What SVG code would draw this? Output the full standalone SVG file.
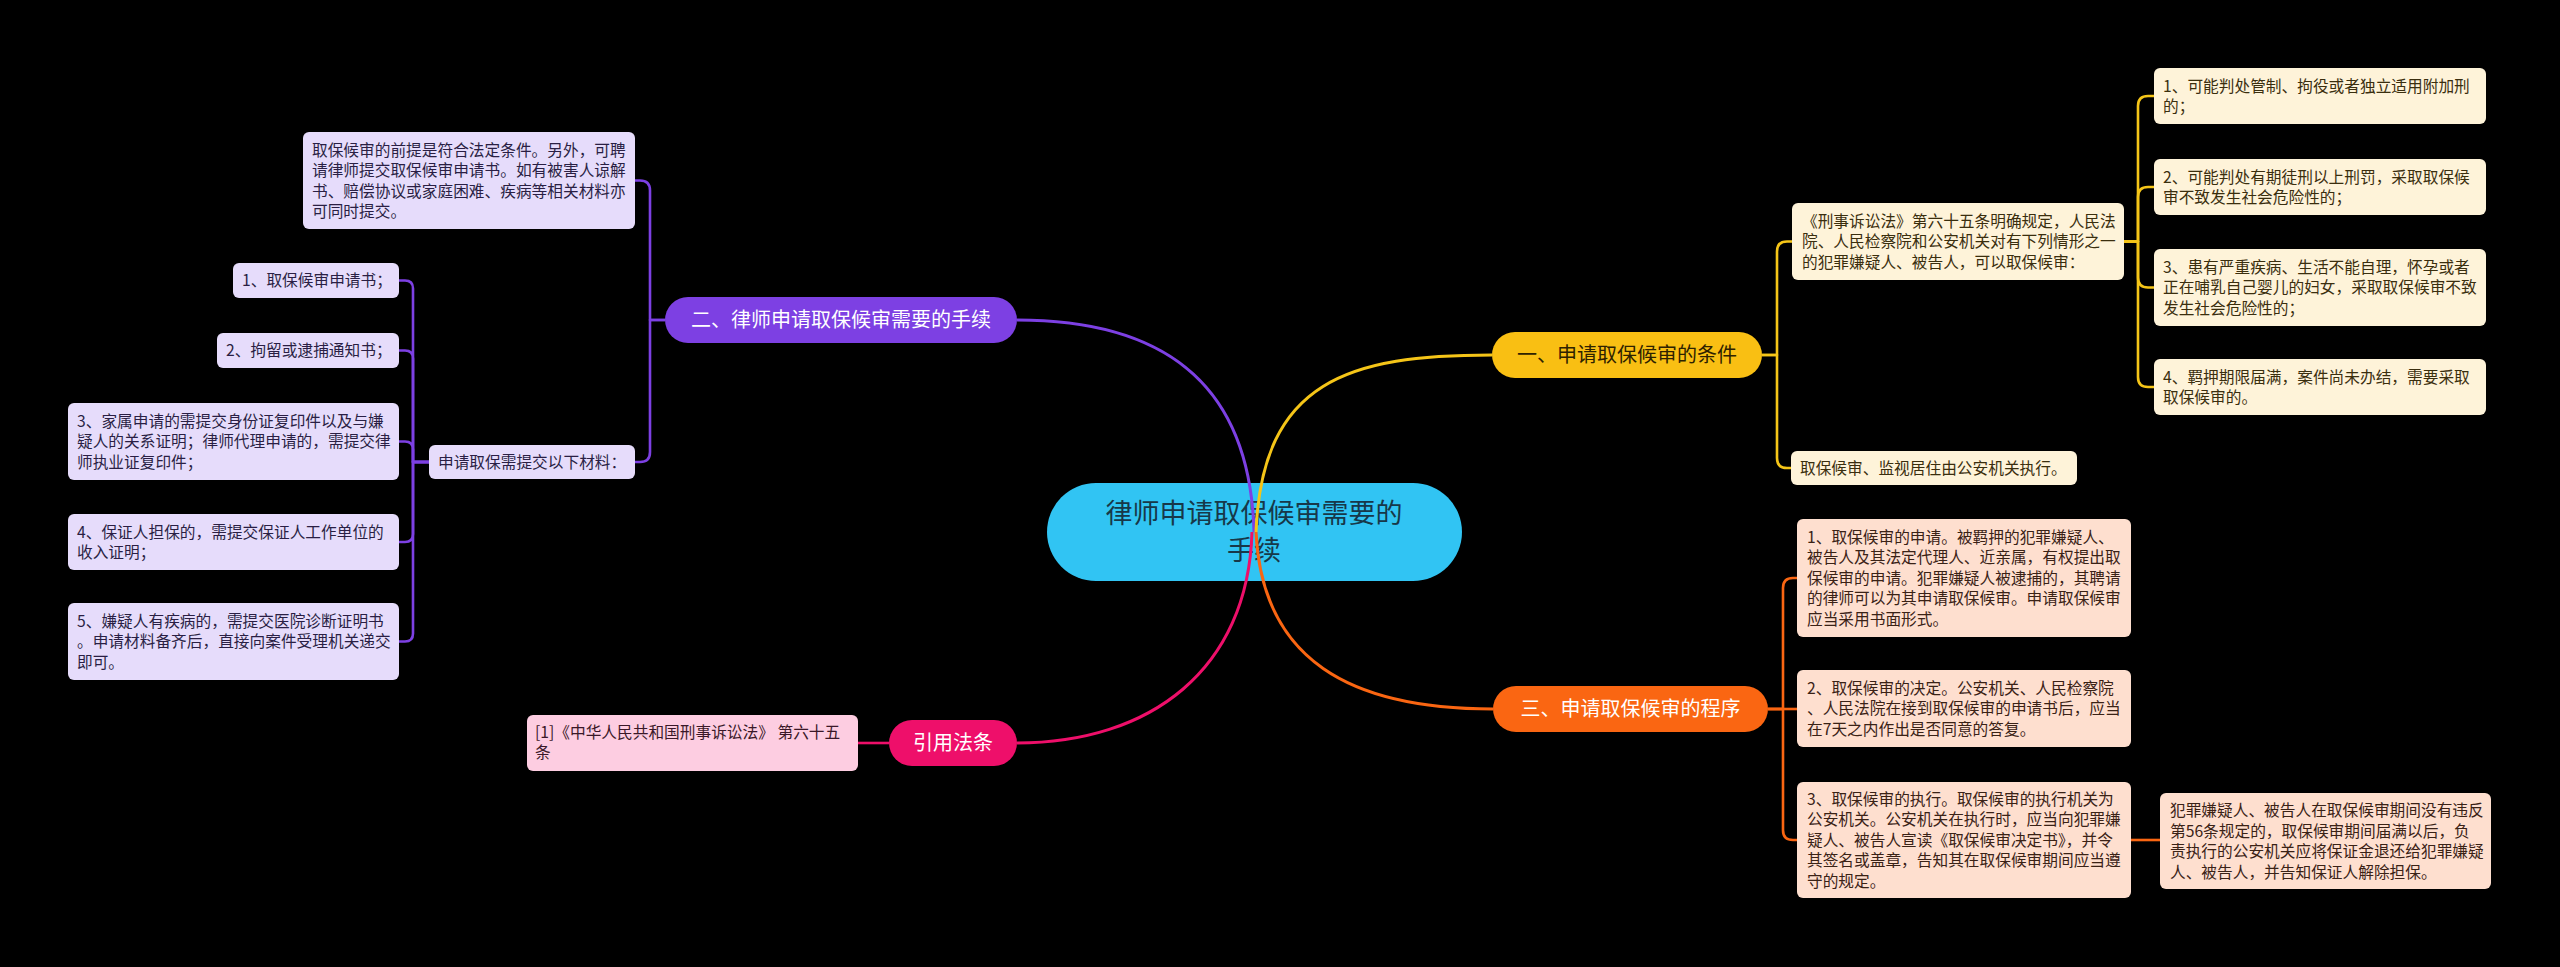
<svg xmlns="http://www.w3.org/2000/svg" width="2560" height="967" viewBox="0 0 2560 967">
<style>
text{font-family:"Noto Sans CJK SC","Noto Sans",sans-serif;}
.t{font-size:15.7px;fill:#2b2b2b;}
.ty{fill:#3a2e0e;}
.to{fill:#3a2216;}
.tp{fill:#2a1f44;}
.tk{fill:#3a1828;}
.b{font-size:20px;text-anchor:middle;}
.w{fill:#ffffff;}
.ly{fill:#FEF3D9;}
.lo{fill:#FEDFCF;}
.lp{fill:#E6DCFB;}
.lk{fill:#FDCDE1;}
.c{fill:none;stroke-width:2.6;stroke-linejoin:round;}
.m{fill:none;stroke-width:3;}
.sy{stroke:#F5C518;}
.so{stroke:#FA6612;}
.sp{stroke:#7D40E3;}
.sk{stroke:#EE0F6A;}
</style>
<rect x="0" y="0" width="2560" height="967" fill="#000000"/>

<g id="central">
<rect x="1047" y="483" width="415" height="98" rx="49" fill="#31C4F3"/>
<text x="1254" y="523" font-size="27" text-anchor="middle" fill="#173849">律师申请取保候审需要的</text>
<text x="1254" y="560" font-size="27" text-anchor="middle" fill="#173849">手续</text>
</g>

<g id="connectors">
<path class="m sp" d="M1254 532 C1250 380 1160 320 1017 320"/>
<path class="m sy" d="M1256 532 C1262 380 1350 355 1492 355"/>
<path class="m so" d="M1256 532 C1262 660 1350 709 1493 709"/>
<path class="m sk" d="M1252 532 C1248 670 1150 743 1017 743"/>

<path class="c sy" d="M1762 355 H1777 V251.5 Q1777 241.5 1787 241.5 H1792"/>
<path class="c sy" d="M1762 355 H1777 V458 Q1777 468 1787 468 H1791"/>
<path class="c sy" d="M2124 241.5 H2138 V106 Q2138 96 2148 96 H2154"/>
<path class="c sy" d="M2124 241.5 H2138 V197 Q2138 187 2148 187 H2154"/>
<path class="c sy" d="M2124 241.5 H2138 V277.5 Q2138 287.5 2148 287.5 H2154"/>
<path class="c sy" d="M2124 241.5 H2138 V377 Q2138 387 2148 387 H2154"/>

<path class="c so" d="M1768 709 H1783 V588 Q1783 578 1793 578 H1797"/>
<path class="c so" d="M1768 709 H1797"/>
<path class="c so" d="M1768 709 H1783 V830 Q1783 840 1793 840 H1797"/>
<path class="c so" d="M2131 840 H2160"/>

<path class="c sp" d="M665 320 H650 V190.5 Q650 180.5 640 180.5 H635"/>
<path class="c sp" d="M665 320 H650 V452 Q650 462 640 462 H635"/>
<path class="c sp" d="M429 462 H413 V288.5 Q413 280.5 405 280.5 H399"/>
<path class="c sp" d="M429 462 H413 V358.5 Q413 350.5 405 350.5 H399"/>
<path class="c sp" d="M429 462 H413 V449.5 Q413 441.5 405 441.5 H399"/>
<path class="c sp" d="M429 462 H413 V534 Q413 542 405 542 H399"/>
<path class="c sp" d="M429 462 H413 V633.5 Q413 641.5 405 641.5 H399"/>

<path class="c sk" d="M889 743 H858"/>
</g>

<g id="branch1">
<rect x="1492" y="332" width="270" height="46" rx="23" fill="#F9BF13"/>
<text class="b" x="1627" y="362.4" fill="#2e2200">一、申请取保候审的条件</text>
</g>
<g id="branch2">
<rect x="665" y="297" width="352" height="46" rx="23" fill="#7D40E3"/>
<text class="b w" x="841" y="327.4">二、律师申请取保候审需要的手续</text>
</g>
<g id="branch3">
<rect x="1493" y="686" width="275" height="46" rx="23" fill="#FA6612"/>
<text class="b w" x="1630.5" y="716.4">三、申请取保候审的程序</text>
</g>
<g id="branch4">
<rect x="889" y="720" width="128" height="46" rx="23" fill="#EE0F6A"/>
<text class="b w" x="953" y="750.4">引用法条</text>
</g>

<g id="y0">
<rect class="ly" x="1792" y="203" width="332" height="77" rx="6"/>
<text class="t ty" x="1802" y="226.8">《刑事诉讼法》第六十五条明确规定，人民法</text>
<text class="t ty" x="1802" y="247.3">院、人民检察院和公安机关对有下列情形之一</text>
<text class="t ty" x="1802" y="267.8">的犯罪嫌疑人、被告人，可以取保候审：</text>
</g>
<g id="y1">
<rect class="ly" x="2154" y="68" width="332" height="56" rx="6"/>
<text class="t ty" x="2163" y="91.5">1、可能判处管制、拘役或者独立适用附加刑</text>
<text class="t ty" x="2163" y="112">的；</text>
</g>
<g id="y2">
<rect class="ly" x="2154" y="159" width="332" height="56" rx="6"/>
<text class="t ty" x="2163" y="182.5">2、可能判处有期徒刑以上刑罚，采取取保候</text>
<text class="t ty" x="2163" y="203">审不致发生社会危险性的；</text>
</g>
<g id="y3">
<rect class="ly" x="2154" y="249" width="332" height="77" rx="6"/>
<text class="t ty" x="2163" y="272.8">3、患有严重疾病、生活不能自理，怀孕或者</text>
<text class="t ty" x="2163" y="293.3">正在哺乳自己婴儿的妇女，采取取保候审不致</text>
<text class="t ty" x="2163" y="313.8">发生社会危险性的；</text>
</g>
<g id="y4">
<rect class="ly" x="2154" y="359" width="332" height="56" rx="6"/>
<text class="t ty" x="2163" y="382.5">4、羁押期限届满，案件尚未办结，需要采取</text>
<text class="t ty" x="2163" y="403">取保候审的。</text>
</g>
<g id="y5">
<rect class="ly" x="1791" y="451" width="286" height="34" rx="6"/>
<text class="t ty" x="1800" y="473.8">取保候审、监视居住由公安机关执行。</text>
</g>

<g id="o1">
<rect class="lo" x="1797" y="519" width="334" height="118" rx="6"/>
<text class="t to" x="1807" y="542.8">1、取保候审的申请。被羁押的犯罪嫌疑人、</text>
<text class="t to" x="1807" y="563.3">被告人及其法定代理人、近亲属，有权提出取</text>
<text class="t to" x="1807" y="583.8">保候审的申请。犯罪嫌疑人被逮捕的，其聘请</text>
<text class="t to" x="1807" y="604.3">的律师可以为其申请取保候审。申请取保候审</text>
<text class="t to" x="1807" y="624.8">应当采用书面形式。</text>
</g>
<g id="o2">
<rect class="lo" x="1797" y="670" width="334" height="77" rx="6"/>
<text class="t to" x="1807" y="693.8">2、取保候审的决定。公安机关、人民检察院</text>
<text class="t to" x="1807" y="714.3">、人民法院在接到取保候审的申请书后，应当</text>
<text class="t to" x="1807" y="734.8">在7天之内作出是否同意的答复。</text>
</g>
<g id="o3">
<rect class="lo" x="1797" y="782" width="334" height="116" rx="6"/>
<text class="t to" x="1807" y="804.8">3、取保候审的执行。取保候审的执行机关为</text>
<text class="t to" x="1807" y="825.3">公安机关。公安机关在执行时，应当向犯罪嫌</text>
<text class="t to" x="1807" y="845.8">疑人、被告人宣读《取保候审决定书》，并令</text>
<text class="t to" x="1807" y="866.3">其签名或盖章，告知其在取保候审期间应当遵</text>
<text class="t to" x="1807" y="886.8">守的规定。</text>
</g>
<g id="o4">
<rect class="lo" x="2160" y="793" width="331" height="96" rx="6"/>
<text class="t to" x="2170" y="816">犯罪嫌疑人、被告人在取保候审期间没有违反</text>
<text class="t to" x="2170" y="836.5">第56条规定的，取保候审期间届满以后，负</text>
<text class="t to" x="2170" y="857">责执行的公安机关应将保证金退还给犯罪嫌疑</text>
<text class="t to" x="2170" y="877.5">人、被告人，并告知保证人解除担保。</text>
</g>

<g id="p0">
<rect class="lp" x="303" y="132" width="332" height="97" rx="6"/>
<text class="t tp" x="312" y="155.5">取保候审的前提是符合法定条件。另外，可聘</text>
<text class="t tp" x="312" y="176">请律师提交取保候审申请书。如有被害人谅解</text>
<text class="t tp" x="312" y="196.5">书、赔偿协议或家庭困难、疾病等相关材料亦</text>
<text class="t tp" x="312" y="217">可同时提交。</text>
</g>
<g id="p1">
<rect class="lp" x="429" y="445" width="206" height="34" rx="6"/>
<text class="t tp" x="438" y="467.8">申请取保需提交以下材料：</text>
</g>
<g id="p2">
<rect class="lp" x="233" y="263" width="166" height="35" rx="6"/>
<text class="t tp" x="242" y="286.3">1、取保候审申请书；</text>
</g>
<g id="p3">
<rect class="lp" x="217" y="333" width="182" height="35" rx="6"/>
<text class="t tp" x="226" y="356.3">2、拘留或逮捕通知书；</text>
</g>
<g id="p4">
<rect class="lp" x="68" y="403" width="331" height="77" rx="6"/>
<text class="t tp" x="77" y="426.8">3、家属申请的需提交身份证复印件以及与嫌</text>
<text class="t tp" x="77" y="447.3">疑人的关系证明；律师代理申请的，需提交律</text>
<text class="t tp" x="77" y="467.8">师执业证复印件；</text>
</g>
<g id="p5">
<rect class="lp" x="68" y="514" width="331" height="56" rx="6"/>
<text class="t tp" x="77" y="537.5">4、保证人担保的，需提交保证人工作单位的</text>
<text class="t tp" x="77" y="558">收入证明；</text>
</g>
<g id="p6">
<rect class="lp" x="68" y="603" width="331" height="77" rx="6"/>
<text class="t tp" x="77" y="626.8">5、嫌疑人有疾病的，需提交医院诊断证明书</text>
<text class="t tp" x="77" y="647.3">。申请材料备齐后，直接向案件受理机关递交</text>
<text class="t tp" x="77" y="667.8">即可。</text>
</g>

<g id="k1">
<rect class="lk" x="527" y="715" width="331" height="56" rx="6"/>
<text class="t tk" x="535" y="737.5">[1]《中华人民共和国刑事诉讼法》 第六十五</text>
<text class="t tk" x="535" y="758">条</text>
</g>
</svg>
